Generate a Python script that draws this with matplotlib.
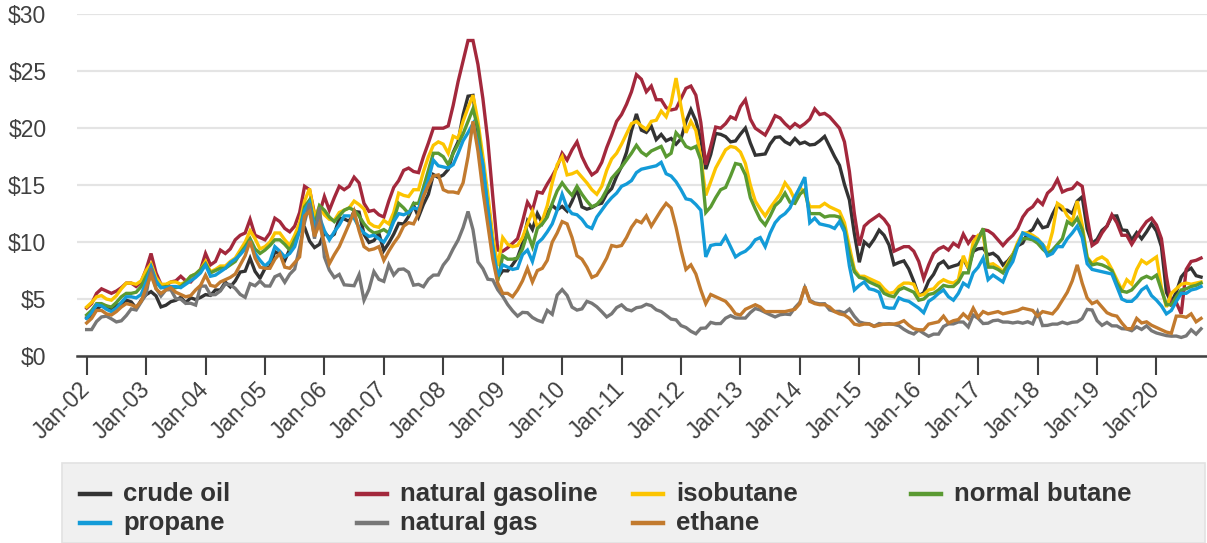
import matplotlib
matplotlib.use("Agg")
import matplotlib.pyplot as plt
import matplotlib.transforms as mtransforms
import numpy as np
from matplotlib.lines import Line2D
from matplotlib.patches import Rectangle

plt.rcParams['font.family'] = ['Liberation Sans', 'DejaVu Sans']

# Monthly values, Jan-2002 .. Oct-2020 ($/MMBtu)
crude_oil = [
    3.35, 3.50, 4.09, 4.44, 4.37, 4.15, 4.44, 4.59, 4.90, 4.75, 4.20, 4.88,
    5.38, 5.65, 5.28, 4.31, 4.46, 4.77, 4.89, 5.15, 4.67, 5.11, 4.96, 5.14,
    5.39, 5.32, 5.80, 5.79, 6.48, 6.07, 6.59, 7.37, 7.45, 8.58, 7.43, 6.83,
    7.67, 7.84, 9.16, 8.94, 8.39, 9.37, 9.92, 11.40, 11.30, 10.09, 9.52, 9.80,
    10.86, 10.38, 10.70, 12.11, 12.03, 11.82, 12.70, 12.63, 10.68, 9.97, 10.13, 10.77,
    9.26, 9.92, 10.70, 11.64, 11.59, 12.25, 13.26, 12.20, 13.31, 14.20, 15.93, 15.68,
    15.89, 16.38, 17.87, 18.81, 21.17, 22.81, 22.88, 19.52, 16.76, 12.34, 9.04, 6.89,
    7.49, 7.47, 8.02, 8.65, 9.88, 11.83, 11.11, 12.50, 11.66, 12.55, 13.22, 12.84,
    13.13, 12.72, 13.59, 14.62, 13.09, 12.89, 13.03, 13.28, 13.42, 14.25, 14.70, 15.77,
    16.64, 17.88, 19.77, 21.25, 19.83, 19.63, 20.17, 19.00, 19.45, 18.89, 19.10, 18.60,
    19.08, 20.57, 21.63, 20.65, 19.02, 16.41, 17.69, 19.54, 19.46, 19.26, 18.80, 18.88,
    19.48, 20.01, 18.70, 17.63, 17.68, 17.74, 18.61, 19.19, 19.24, 18.81, 18.58, 19.10,
    18.64, 18.78, 18.53, 18.58, 18.89, 19.28, 18.41, 17.52, 16.74, 15.07, 13.70, 10.75,
    8.23, 10.02, 9.64, 10.26, 11.05, 10.60, 9.75, 8.02, 8.21, 8.35, 7.63, 6.55,
    5.29, 5.55, 6.59, 7.17, 8.06, 8.32, 7.75, 7.90, 8.03, 8.54, 7.71, 9.19,
    9.41, 9.46, 8.89, 9.02, 8.68, 7.99, 8.36, 8.91, 9.68, 9.92, 10.81, 11.10,
    11.91, 11.26, 11.38, 12.43, 13.27, 12.83, 12.80, 12.51, 13.60, 13.97, 11.16, 9.89,
    10.24, 11.03, 11.40, 12.28, 12.30, 11.07, 11.02, 10.18, 10.83, 10.29, 10.90, 11.61,
    10.97, 9.60, 5.60, 4.70, 5.60, 6.94, 7.46, 7.71, 7.05, 6.93,
]

natural_gasoline = [
    4.2, 4.6, 5.5, 5.9, 5.7, 5.5, 5.7, 6.0, 6.4, 6.4, 6.1, 6.5,
    7.6, 9.0, 7.3, 6.3, 6.2, 6.5, 6.6, 7.0, 6.6, 6.5, 7.0, 7.6,
    9.0, 8.0, 8.3, 9.3, 9.0, 9.4, 10.2, 10.6, 10.8, 12.0, 10.6, 10.4,
    10.2, 10.8, 12.1, 11.8, 11.2, 10.9, 11.4, 12.6, 14.9, 14.6, 12.5, 12.5,
    14.0, 12.8, 13.9, 14.9, 14.6, 14.9, 15.7, 15.2, 13.4, 12.7, 12.8, 12.4,
    12.2, 13.6, 14.8, 15.4, 16.3, 16.5, 16.2, 16.1, 17.5, 18.7, 20.0, 20.0,
    20.0, 20.2, 22.0, 24.1, 25.9, 27.7, 27.7, 25.6, 22.6, 18.9, 14.0, 9.3,
    9.2, 9.5, 9.9, 10.3, 11.8, 13.5, 12.8, 14.4, 14.3, 15.1, 15.8, 16.6,
    17.8, 17.2, 18.1, 18.8, 17.5, 16.6, 15.9, 16.2, 17.0, 18.3, 19.4, 20.6,
    21.2, 22.1, 23.2, 24.7, 24.3, 23.2, 23.7, 22.5, 22.5, 21.8, 21.6, 21.7,
    22.6, 23.5, 23.7, 22.9, 20.5, 16.8, 18.4, 20.1, 20.0, 20.4, 21.0, 20.8,
    21.9, 22.5, 20.8, 20.0, 19.7, 19.4, 20.2, 21.1, 20.9, 20.4, 20.0, 20.4,
    20.1, 20.4, 20.8, 21.7, 21.2, 21.3, 21.0, 20.5, 20.0, 18.8, 16.2, 12.5,
    9.7, 11.4, 11.8, 12.1, 12.4, 12.0, 11.4, 9.2, 9.4, 9.6, 9.6, 9.2,
    8.3, 6.8, 8.0, 9.0, 9.4, 9.6, 9.3, 9.9, 9.6, 10.7, 9.9, 10.5,
    10.4, 11.1, 11.0, 10.7, 10.2, 9.7, 10.2, 10.6, 11.2, 12.2, 12.8, 13.1,
    13.7, 13.3, 14.3, 14.7, 15.5, 14.4, 14.6, 14.7, 15.2, 14.9, 12.2, 9.7,
    10.0, 10.8, 11.4, 12.4, 11.7, 10.6, 10.6, 9.8, 10.5, 11.2, 11.8, 12.1,
    11.5, 10.3, 7.0, 4.5, 4.7, 3.7, 7.6, 8.3, 8.4, 8.6,
]

isobutane = [
    4.3, 4.7, 5.2, 5.3, 5.0, 4.9, 5.3, 5.9, 6.4, 6.4, 6.3, 6.6,
    7.5, 8.1, 6.9, 6.3, 6.3, 6.5, 6.5, 6.3, 6.5, 7.0, 7.2, 7.6,
    8.3, 7.4, 7.6, 7.9, 7.9, 8.3, 8.6, 9.3, 10.0, 11.0, 10.3, 9.4,
    9.6, 10.0, 10.8, 10.8, 10.2, 9.7, 10.6, 11.7, 13.6, 14.7, 12.2, 13.1,
    12.4, 12.0, 11.9, 12.6, 12.8, 13.0, 13.6, 13.3, 12.9, 11.7, 11.4, 11.3,
    11.9, 11.6, 12.6, 14.3, 14.1, 14.0, 14.6, 14.6, 16.2, 17.5, 18.5, 18.8,
    18.6, 17.8, 19.3, 19.1, 20.6, 21.8, 22.9, 20.6, 17.5, 14.2, 10.5, 7.9,
    10.4, 9.8, 9.6, 9.7, 10.4, 11.6, 12.7, 11.3, 11.9, 13.2, 15.2, 16.8,
    17.5, 15.9, 16.0, 16.2, 15.7, 15.2, 14.6, 14.2, 14.9, 16.3, 17.3, 17.8,
    18.6, 19.5, 20.4, 20.6, 20.2, 19.9, 20.6, 20.7, 21.5, 21.0, 22.2, 24.4,
    21.9, 19.6, 20.6, 19.8, 17.4, 14.1, 15.3, 16.5, 17.3, 18.1, 18.4, 18.3,
    17.9, 16.9, 15.0, 13.6, 12.9, 12.3, 13.0, 13.6, 14.2, 15.2, 14.6, 13.7,
    14.8, 14.3, 13.1, 13.1, 13.1, 13.4, 13.1, 12.9, 12.7, 11.7, 9.6, 7.6,
    7.0, 7.0, 6.8, 6.6, 6.4, 5.9, 5.5, 5.6, 6.1, 6.4, 6.4, 6.3,
    5.3, 5.4, 5.8, 5.9, 6.4, 6.7, 6.5, 6.4, 6.7, 8.8, 7.7, 10.0,
    10.6, 10.6, 8.0, 8.1, 7.8, 7.4, 8.2, 8.9, 10.0, 10.8, 10.8, 10.6,
    10.3, 9.8, 9.3, 10.9, 13.4, 13.1, 12.3, 11.8, 13.6, 11.5, 8.7, 8.1,
    8.5, 8.7, 8.4, 7.6, 6.7, 5.8, 6.7, 6.3, 7.6, 8.4, 8.1, 8.4,
    8.7, 6.0, 4.3, 5.5, 5.9, 6.3, 6.4, 6.3, 6.4, 6.5,
]

normal_butane = [
    3.6, 4.0, 4.6, 4.6, 4.4, 4.3, 4.7, 5.2, 5.5, 5.5, 5.6, 6.1,
    7.0, 7.8, 6.5, 6.0, 6.1, 6.0, 6.0, 6.1, 6.5, 7.0, 7.2, 7.6,
    8.1, 7.3, 7.5, 7.7, 7.7, 8.0, 8.3, 9.0, 9.6, 10.3, 9.4, 9.0,
    9.3, 9.7, 10.2, 10.2, 9.8, 9.3, 10.2, 11.0, 13.1, 13.7, 11.4, 13.2,
    12.8, 12.2, 11.8, 12.3, 12.8, 13.0, 12.8, 12.3, 11.6, 11.1, 10.8, 10.9,
    11.1, 10.8, 12.0, 13.4, 13.0, 12.5, 13.4, 13.4, 14.8, 16.3, 17.8, 17.8,
    17.5, 16.8, 17.8, 18.6, 19.5, 20.6, 21.7, 20.0, 16.5, 13.0, 9.5, 6.6,
    8.8, 8.5, 8.5, 8.6, 9.4, 10.8, 9.6, 11.2, 11.6, 12.2, 13.4, 14.5,
    15.2, 14.6, 14.1, 14.9, 14.2, 13.6, 13.1, 13.3, 13.8, 14.6, 15.6, 16.1,
    16.6, 17.2, 17.8, 18.5, 17.9, 17.6, 18.0, 18.2, 18.4, 17.5, 17.8, 19.6,
    19.1, 18.4, 18.2, 18.4, 17.2, 12.6, 13.1, 13.9, 14.6, 14.8, 15.8, 16.9,
    16.8, 15.9, 13.9, 12.9, 12.0, 11.5, 12.3, 13.2, 13.6, 14.3, 13.5, 13.4,
    14.2, 14.6, 12.5, 12.5, 12.5, 12.2, 12.3, 12.3, 12.2, 11.2, 9.0, 7.4,
    6.9, 6.8, 6.5, 6.3, 6.1, 5.5, 5.3, 5.2, 5.8, 6.0, 5.8, 5.6,
    4.9, 5.0, 5.4, 5.5, 5.8, 6.2, 6.1, 6.1, 6.5, 7.3, 7.3, 9.3,
    10.2, 11.2, 7.8, 7.8, 7.6, 7.3, 8.0, 8.8, 9.8, 10.3, 10.3, 10.2,
    9.9, 9.4, 9.0, 9.3, 9.8, 10.3, 11.8, 11.5, 12.1, 11.1, 8.6, 8.0,
    8.1, 8.0, 7.8, 7.5, 6.4, 5.7, 5.6, 5.8, 6.3, 6.8, 7.0, 6.8,
    7.1, 5.8, 4.5, 4.5, 5.2, 5.8, 5.9, 6.1, 6.2, 6.4,
]

propane = [
    3.3, 3.8, 4.5, 4.4, 4.1, 3.9, 4.2, 4.7, 5.2, 5.2, 5.1, 5.4,
    6.5, 7.8, 6.6, 6.0, 6.0, 6.1, 6.1, 6.0, 6.3, 6.6, 6.9, 7.3,
    8.0, 7.0, 7.1, 7.4, 7.7, 8.2, 8.5, 8.9, 9.4, 10.0, 9.0, 8.4,
    7.9, 8.3, 9.6, 9.2, 8.7, 9.0, 9.6, 11.0, 12.8, 13.5, 11.4, 12.2,
    11.0, 10.2, 10.9, 11.5, 12.3, 12.3, 12.1, 11.3, 10.8, 10.5, 10.6, 10.3,
    10.0, 10.7, 11.8, 12.5, 12.4, 12.6, 13.0, 12.9, 14.3, 15.5, 17.2, 16.7,
    16.6, 16.5, 16.8, 17.8, 18.9, 19.6, 20.4, 18.6, 16.9, 13.0, 9.6, 7.0,
    8.0, 7.8, 7.6, 7.7, 8.9, 9.3, 8.3, 9.9, 10.3, 10.9, 11.6, 12.8,
    14.2, 13.0, 12.5, 12.4, 12.0, 11.4, 11.2, 12.2, 12.8, 13.4, 13.9, 14.3,
    14.9, 15.1, 15.4, 16.1, 16.4, 16.5, 16.6, 16.7, 17.0, 16.0, 15.8, 15.3,
    14.6, 13.8, 13.7, 13.3, 12.8, 8.7, 9.7, 9.8, 9.8, 10.5, 9.6, 8.7,
    9.0, 9.2, 9.6, 10.2, 10.4, 9.6, 10.8, 11.7, 12.2, 12.5, 13.0, 14.0,
    14.8, 15.7, 11.7, 12.1, 11.6, 11.5, 11.4, 11.2, 11.8, 10.9, 7.9, 5.8,
    6.2, 6.5, 5.9, 5.8, 5.6, 4.3, 4.2, 4.2, 5.1, 4.9, 4.8, 4.5,
    4.2, 3.8, 4.8, 5.1, 5.5, 5.8, 5.2, 4.9, 5.5, 6.4, 6.1, 7.3,
    7.8, 8.6, 6.7, 7.1, 6.8, 6.5, 7.6, 8.3, 9.7, 10.8, 10.6, 10.4,
    10.2, 9.8, 8.8, 9.0, 9.6, 9.6, 10.3, 10.8, 11.4, 10.4, 8.1, 7.6,
    7.5, 7.4, 7.3, 7.2, 6.1, 5.0, 4.8, 4.8, 5.2, 5.8, 6.1, 5.3,
    4.9, 4.4, 3.7, 4.0, 4.8, 5.5, 5.5, 5.8, 5.9, 6.1,
]

natural_gas = [
    2.32, 2.32, 3.03, 3.43, 3.50, 3.26, 2.99, 3.09, 3.55, 4.13, 4.04, 4.74,
    5.43, 7.71, 5.93, 5.26, 5.81, 5.82, 5.03, 4.99, 4.62, 4.63, 4.47, 6.13,
    6.14, 5.37, 5.39, 5.71, 6.33, 6.27, 5.93, 5.41, 5.15, 6.35, 6.17, 6.58,
    6.15, 6.14, 6.96, 7.16, 6.47, 7.18, 7.63, 9.53, 11.75, 13.42, 10.30, 13.05,
    8.69, 7.54, 6.89, 7.16, 6.25, 6.21, 6.17, 7.14, 4.90, 5.85, 7.41, 6.73,
    6.55, 8.00, 7.11, 7.60, 7.64, 7.35, 6.22, 6.29, 6.08, 6.74, 7.10, 7.11,
    7.99, 8.54, 9.41, 10.18, 11.27, 12.69, 11.09, 8.26, 7.67, 6.74, 6.68, 5.82,
    5.24, 4.52, 3.96, 3.50, 3.83, 3.80, 3.38, 3.14, 2.99, 4.01, 3.66, 5.35,
    5.83, 5.32, 4.29, 4.03, 4.14, 4.80, 4.63, 4.32, 3.89, 3.43, 3.71, 4.25,
    4.49, 4.09, 3.97, 4.24, 4.31, 4.54, 4.42, 4.06, 3.90, 3.57, 3.24, 3.17,
    2.67, 2.50, 2.17, 1.95, 2.43, 2.46, 2.95, 2.84, 2.85, 3.32, 3.54, 3.34,
    3.33, 3.33, 3.81, 4.17, 4.04, 3.83, 3.62, 3.43, 3.62, 3.68, 3.64, 4.24,
    4.71, 6.00, 4.90, 4.66, 4.58, 4.59, 4.05, 3.91, 3.92, 3.78, 4.12, 3.48,
    2.99, 2.87, 2.83, 2.61, 2.85, 2.78, 2.84, 2.77, 2.66, 2.34, 2.09, 1.93,
    2.28, 1.99, 1.73, 1.92, 1.92, 2.59, 2.82, 2.82, 2.99, 2.98, 2.55, 3.59,
    3.30, 2.85, 2.88, 3.10, 3.15, 2.98, 2.98, 2.90, 2.98, 2.88, 3.01, 2.82,
    3.87, 2.67, 2.69, 2.80, 2.80, 2.97, 2.83, 2.96, 3.00, 3.28, 4.09, 4.04,
    3.11, 2.69, 2.95, 2.65, 2.64, 2.40, 2.37, 2.22, 2.56, 2.33, 2.65, 2.22,
    2.02, 1.91, 1.79, 1.74, 1.75, 1.63, 1.77, 2.30, 1.92, 2.39,
]

ethane = [
    2.9, 3.3, 4.0, 4.0, 3.7, 3.6, 3.9, 4.3, 4.6, 4.5, 4.3, 4.8,
    6.0, 7.1, 5.9, 5.5, 5.8, 6.0, 5.6, 5.4, 5.2, 5.3, 5.8, 6.2,
    7.1, 6.2, 6.1, 6.5, 6.7, 6.9, 7.2, 8.0, 8.8, 10.1, 8.6, 7.8,
    7.7, 7.7, 8.5, 9.0, 7.8, 7.7, 8.2, 8.7, 12.3, 12.7, 10.5, 11.6,
    9.9, 8.1, 8.9, 9.6, 10.6, 11.6, 12.7, 11.0, 9.6, 9.3, 9.4, 9.6,
    8.4, 9.2, 9.9, 10.5, 11.4, 11.7, 11.6, 12.5, 14.0, 15.0, 15.8, 15.9,
    14.6, 14.4, 14.4, 14.3, 15.2, 17.5, 20.6, 18.0, 14.5, 11.5, 8.5, 6.4,
    5.5, 5.5, 5.2, 5.8, 6.6, 7.7, 6.5, 7.5, 7.7, 8.4, 10.0, 10.8,
    11.8, 11.6, 10.4, 8.8, 8.5, 7.8, 6.9, 7.1, 7.8, 8.6, 9.7, 9.6,
    9.7, 10.4, 11.3, 11.9, 11.7, 12.3, 11.4, 12.1, 12.8, 13.4, 13.0, 11.3,
    9.3, 7.6, 8.0, 7.2, 5.8, 4.6, 5.4, 5.2, 5.0, 4.8, 4.3, 3.7,
    3.6, 4.1, 4.3, 4.5, 4.3, 3.9, 3.9, 3.9, 3.9, 3.9, 4.0, 4.1,
    4.6, 6.1, 4.8, 4.6, 4.5, 4.5, 4.3, 3.9, 3.7, 3.6, 3.3, 2.8,
    2.7, 2.8, 2.8, 2.6, 2.7, 2.8, 2.8, 2.8, 2.9, 3.1, 2.7, 2.4,
    2.3, 2.3, 2.8, 2.9, 3.0, 3.5, 2.9, 3.1, 3.2, 3.7, 3.3, 4.2,
    3.4, 3.9, 3.7, 3.8, 3.9, 3.7, 3.8, 3.9, 4.0, 4.2, 4.1, 4.0,
    3.5, 3.9, 3.8, 3.7, 4.2, 4.9, 5.6, 6.6, 8.0, 6.4, 5.1, 4.6,
    4.8, 4.3, 3.8, 3.6, 3.5, 2.9, 2.4, 2.4, 3.3, 2.9, 3.0, 2.7,
    2.5, 2.3, 2.1, 2.0, 3.5, 3.5, 3.4, 3.7, 3.0, 3.3,
]

series_names = ["crude oil", "natural gasoline", "isobutane", "normal butane",
                "propane", "natural gas", "ethane"]
series_values = [crude_oil, natural_gasoline, isobutane, normal_butane,
                 propane, natural_gas, ethane]
series_colors = ["#333333", "#a3283c", "#fcc400", "#5a9a32",
                 "#139bd8", "#777777", "#c27a2e"]

tick_labels = ["Jan-02", "Jan-03", "Jan-04", "Jan-05", "Jan-06", "Jan-07",
               "Jan-08", "Jan-09", "Jan-10", "Jan-11", "Jan-12", "Jan-13",
               "Jan-14", "Jan-15", "Jan-16", "Jan-17", "Jan-18", "Jan-19",
               "Jan-20"]
y_ticks = [0, 5, 10, 15, 20, 25, 30]

W, H = 1207, 543
fig = plt.figure(figsize=(W / 100, H / 100), dpi=100)
ax = fig.add_axes([77 / W, (H - 356) / H, 1 - 77 / W, (356 - 14.3) / H])

x = np.arange(len(crude_oil))
for vals, col in zip(series_values, series_colors):
    ax.plot(x[:len(vals)], vals, color=col, lw=2.4, solid_joinstyle='miter')

ax.set_xlim(-1.95, 226.2)
ax.set_ylim(0, 30)
ax.set_yticks(y_ticks)
ax.set_yticklabels([f"${v}" for v in y_ticks])
ax.set_xticks(np.arange(len(tick_labels)) * 12)
ax.set_xticklabels(tick_labels)
shift = mtransforms.ScaledTranslation(4 / 100, 0, fig.dpi_scale_trans)
for lab in ax.get_xticklabels():
    lab.set_rotation(45)
    lab.set_ha('right')
    lab.set_va('center')
    lab.set_rotation_mode('anchor')
    lab.set_transform(lab.get_transform() + shift)

ax.grid(axis='y', color='#e4e4e4', lw=1.6)
ax.set_axisbelow(True)
for s in ['top', 'right', 'left']:
    ax.spines[s].set_visible(False)
ax.spines['bottom'].set_color('#404040')
ax.spines['bottom'].set_linewidth(1.8)
ax.tick_params(axis='y', length=0, pad=22, labelsize=16.5, labelcolor='#404040')
ax.tick_params(axis='x', length=13.5, width=1.5, color='#404040', pad=8,
               labelsize=16.5, labelcolor='#404040')

# legend box (manual layout, rows left-to-right)
fig.add_artist(Rectangle((62 / W, 0), (1205 - 62) / W, (H - 463) / H,
                         transform=fig.transFigure, facecolor='#f0f0f0',
                         edgecolor='#e2e2e2', lw=1.2, zorder=0))
col_x = [80, 357, 633, 911]
row_y = [494, 523]
for i, (name, col) in enumerate(zip(series_names, series_colors)):
    r, c = divmod(i, 4)
    x0 = col_x[c]
    y0 = row_y[r]
    fig.add_artist(Line2D([x0 / W, (x0 + 30) / W], [1 - y0 / H, 1 - y0 / H],
                          transform=fig.transFigure, color=col, lw=3.2))
    fig.text((x0 + 43) / W, 1 - y0 / H, name, fontsize=18.5, fontweight='bold',
             color='#333333', ha='left', va='center')

fig.savefig("out.png", dpi=100)
